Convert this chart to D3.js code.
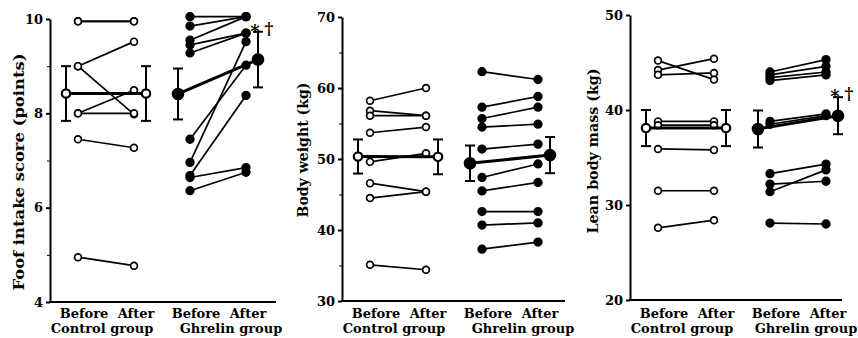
<!DOCTYPE html>
<html>
<head>
<meta charset="utf-8">
<script src="https://cdn.jsdelivr.net/npm/d3@7"></script>
<style>
  body { margin: 0; background: #fff; }
  svg text { font-family: "DejaVu Serif", serif; font-weight: bold; fill: #000; }
</style>
</head>
<body>
<svg id="chart" width="858" height="338"></svg>
<script>
// slots on the x axis: control before/after, ghrelin before/after
const slots = ["cBefore", "cAfter", "gBefore", "gAfter"];
const timeLabels = ["Before", "After", "Before", "After"];
const groupLabels = ["Control group", "Ghrelin group"];

// Food intake score (points)
const intakeTicks = [4, 6, 8, 10];
const intakeMinor = [5, 7, 9];
const intakeControlBefore = [9.95, 9.95, 9.0, 9.0, 8.0, 8.0, 7.45, 4.95];
const intakeControlAfter  = [9.95, 9.95, 9.52, 7.98, 8.49, 8.0, 7.27, 4.77];
const intakeGhrelinBefore = [10.05, 9.85, 9.55, 9.45, 9.28, 7.45, 6.96, 6.68, 6.64, 6.36];
const intakeGhrelinAfter  = [10.05, 10.05, 10.05, 9.7, 9.7, 9.02, 9.52, 8.38, 6.85, 6.75];
const intakeMean = [8.42, 8.42, 8.41, 9.14];
const intakeSE = [0.58, 0.58, 0.54, 0.59];

// Body weight (kg)
const weightTicks = [30, 40, 50, 60, 70];
const weightMinor = [35, 45, 55, 65];
const weightControlBefore = [58.2, 56.8, 56.1, 53.7, 49.6, 46.6, 44.5, 35.1];
const weightControlAfter  = [60.0, 56.1, 56.1, 54.5, 50.8, 45.4, 45.4, 34.4];
const weightGhrelinBefore = [62.3, 57.3, 55.7, 54.5, 51.4, 47.4, 45.5, 42.6, 40.7, 37.3];
const weightGhrelinAfter  = [61.2, 58.8, 57.3, 54.9, 52.1, 49.3, 46.7, 42.6, 41.0, 38.3];
const weightMean = [50.35, 50.3, 49.4, 50.55];
const weightSE = [2.4, 2.45, 2.5, 2.55];

// Lean body mass (kg)
const leanTicks = [20, 30, 40, 50];
const leanMinor = [];
const leanControlBefore = [45.2, 44.2, 43.7, 38.8, 38.4, 35.9, 31.5, 27.6];
const leanControlAfter  = [43.2, 45.4, 43.9, 38.8, 38.4, 35.8, 31.5, 28.4];
const leanGhrelinBefore = [44.0, 43.7, 43.4, 43.1, 38.8, 38.5, 33.3, 32.2, 31.4, 28.1];
const leanGhrelinAfter  = [45.3, 44.6, 44.0, 43.7, 39.6, 39.4, 34.3, 32.5, 33.7, 28.0];
const leanMean = [38.1, 38.1, 38.0, 39.4];
const leanSE = [1.9, 1.9, 1.95, 1.95];

const svg = d3.select("#chart");

const panels = [
  { title: "Foof intake score (points)", domain: [4, 10], ticks: intakeTicks, minor: intakeMinor,
    control: [intakeControlBefore, intakeControlAfter], ghrelin: [intakeGhrelinBefore, intakeGhrelinAfter],
    mean: intakeMean, se: intakeSE, sig: true, grpShift: 13,
    axisX: 50, top: 19, bottom: 302, xEnd: 276, titleX: 19, titleY: 172, titleLen: 237 },
  { title: "Body weight (kg)", domain: [30, 70], ticks: weightTicks, minor: weightMinor,
    control: [weightControlBefore, weightControlAfter], ghrelin: [weightGhrelinBefore, weightGhrelinAfter],
    mean: weightMean, se: weightSE, sig: false, grpShift: 13,
    axisX: 342, top: 17, bottom: 301, xEnd: 565, titleX: 303, titleY: 150, titleLen: 135 },
  { title: "Lean body mass (kg)", domain: [20, 50], ticks: leanTicks, minor: leanMinor,
    control: [leanControlBefore, leanControlAfter], ghrelin: [leanGhrelinBefore, leanGhrelinAfter],
    mean: leanMean, se: leanSE, sig: true, grpShift: 8,
    axisX: 630, top: 15, bottom: 300, xEnd: 842, titleX: 593, titleY: 151, titleLen: 165 }
];

panels.forEach(drawPanel);

function drawPanel(p) {
  const g = svg.append("g");
  const y = d3.scaleLinear().domain(p.domain).range([p.bottom, p.top]);
  const x = d3.scalePoint().domain(slots).range([p.axisX + 28, p.axisX + 196]);

  // axes
  const yAxis = g.append("g")
    .attr("transform", "translate(" + p.axisX + ",0)")
    .call(d3.axisLeft(y).tickValues(p.ticks).tickFormat(d3.format("d"))
      .tickSize(4).tickSizeOuter(0).tickPadding(3));
  yAxis.select(".domain").attr("stroke-width", 2);
  yAxis.selectAll(".tick line").attr("stroke-width", 2);
  yAxis.selectAll(".tick text").style("font-size", "13px").attr("font-family", null);

  g.append("g")
    .attr("transform", "translate(" + p.axisX + ",0)")
    .call(d3.axisLeft(y).tickValues(p.minor).tickSize(3).tickFormat(""))
    .call(a => a.select(".domain").remove());

  g.append("line")
    .attr("x1", p.axisX - 1).attr("x2", p.xEnd)
    .attr("y1", p.bottom).attr("y2", p.bottom)
    .attr("stroke", "#000").attr("stroke-width", 2);

  g.append("text")
    .attr("transform", "translate(" + p.titleX + "," + p.titleY + ") rotate(-90)")
    .attr("text-anchor", "middle")
    .attr("dy", "0.35em")
    .attr("textLength", p.titleLen)
    .attr("lengthAdjust", "spacingAndGlyphs")
    .style("font-size", "14px")
    .text(p.title);

  // individual subjects
  const rows = [];
  p.control[0].forEach((v, i) => rows.push({ grp: "c", b: v, a: p.control[1][i] }));
  p.ghrelin[0].forEach((v, i) => rows.push({ grp: "g", b: v, a: p.ghrelin[1][i] }));

  g.selectAll(".subj").data(rows).enter().append("line")
    .attr("x1", d => x(d.grp + "Before")).attr("y1", d => y(d.b))
    .attr("x2", d => x(d.grp + "After")).attr("y2", d => y(d.a))
    .attr("stroke", "#000").attr("stroke-width", 1.7);

  const pts = [];
  rows.forEach(d => {
    pts.push({ grp: d.grp, slot: d.grp + "Before", v: d.b });
    pts.push({ grp: d.grp, slot: d.grp + "After", v: d.a });
  });
  g.selectAll(".pt").data(pts).enter().append("circle")
    .attr("cx", d => x(d.slot)).attr("cy", d => y(d.v))
    .attr("r", d => d.grp === "c" ? 3.4 : 3.8)
    .attr("fill", d => d.grp === "c" ? "#fff" : "#000")
    .attr("stroke", "#000").attr("stroke-width", 1.7);

  // group means with error bars, drawn just outside the subjects
  const meanX = slots.map((s, i) => x(s) + (i % 2 === 0 ? -12 : 12));
  [[0, 1], [2, 3]].forEach(([i, j]) => {
    g.append("line")
      .attr("x1", meanX[i]).attr("y1", y(p.mean[i]))
      .attr("x2", meanX[j]).attr("y2", y(p.mean[j]))
      .attr("stroke", "#000").attr("stroke-width", 3);
  });
  p.mean.forEach((m, i) => {
    const cx = meanX[i];
    const lo = y(m - p.se[i]), hi = y(m + p.se[i]);
    g.append("line").attr("x1", cx).attr("x2", cx).attr("y1", lo).attr("y2", hi)
      .attr("stroke", "#000").attr("stroke-width", 2);
    [lo, hi].forEach(yy => g.append("line")
      .attr("x1", cx - 5).attr("x2", cx + 5).attr("y1", yy).attr("y2", yy)
      .attr("stroke", "#000").attr("stroke-width", 2));
    const ctrl = i < 2;
    g.append("circle").attr("cx", cx).attr("cy", y(m))
      .attr("r", ctrl ? 4.2 : 5.2)
      .attr("fill", ctrl ? "#fff" : "#000")
      .attr("stroke", "#000").attr("stroke-width", 2.2);
  });

  if (p.sig) {
    const sx = meanX[3], sy = y(p.mean[3] + p.se[3]) - 4;
    g.append("text").attr("x", sx - 3).attr("y", sy + 10).attr("text-anchor", "middle")
      .style("font-size", "18px").text("*");
    g.append("text").attr("x", sx + 11).attr("y", sy + 6).attr("text-anchor", "middle")
      .style("font-size", "17px").text("\u2020");
  }

  // category labels
  g.selectAll(".time").data(slots).enter().append("text")
    .attr("x", (s, i) => x(s) + (i % 2 === 0 ? 6 : 2))
    .attr("y", 318)
    .attr("text-anchor", "middle")
    .style("font-size", "13px")
    .text((s, i) => timeLabels[i]);
  g.selectAll(".grp").data(groupLabels).enter().append("text")
    .attr("x", (t, i) => (x(slots[2 * i]) + x(slots[2 * i + 1])) / 2 + (i === 0 ? -4 : p.grpShift))
    .attr("y", 333)
    .attr("text-anchor", "middle")
    .style("font-size", "13px")
    .text(t => t);
}
</script>
</body>
</html>
